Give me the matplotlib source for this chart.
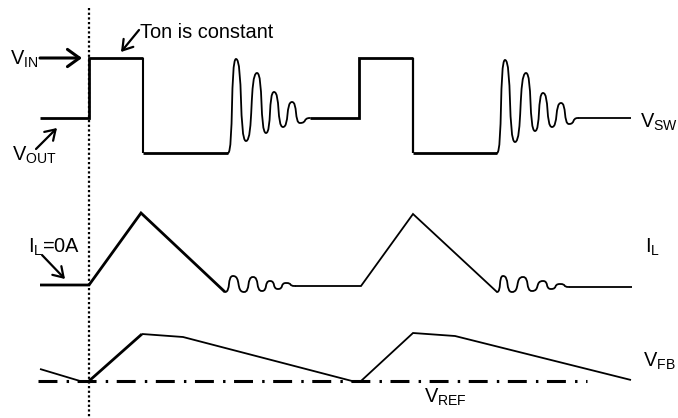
import numpy as np
import matplotlib as mpl
mpl.use('Agg')
import matplotlib.pyplot as plt
from matplotlib.path import Path
from matplotlib.patches import PathPatch

plt.rcParams['font.family'] = ['Liberation Sans', 'DejaVu Sans']
plt.rcParams['mathtext.default'] = 'regular'

# --- waveform breakpoints (image pixel units, y grows downward) ---
# V_SW
vsw_on1_x = [40, 89, 89, 143]
vsw_on1_y = [118, 118, 58, 58]
vsw_fall1_x = [143, 143]
vsw_fall1_y = [58, 153]
vsw_off1_x = [143, 228]
vsw_off1_y = [153, 153]
vsw_ring1_x = [228, 236, 246, 257, 266, 274, 283, 292, 300, 310]
vsw_ring1_y = [153, 59, 141, 73, 133, 92, 127, 102, 123, 118]
vsw_on2_x = [310, 359, 359, 413]
vsw_on2_y = [118, 118, 58, 58]
vsw_fall2_x = [413, 413]
vsw_fall2_y = [58, 153]
vsw_off2_x = [413, 497]
vsw_off2_y = [153, 153]
vsw_ring2_x = [497, 505, 515, 526, 535, 543, 552, 561, 569, 578]
vsw_ring2_y = [153, 60, 142, 73, 131, 93, 127, 103, 124, 118]
vsw_tail_x = [578, 631]
vsw_tail_y = [118, 118]

# I_L
il_tri1_x = [40, 89, 141, 225]
il_tri1_y = [285, 285, 213, 292]
il_ring1_x = [225, 233, 244, 253, 262, 270, 278, 286, 295]
il_ring1_y = [292, 276, 292, 277, 291, 281, 289, 283, 286]
il_tri2_x = [295, 361, 413, 497]
il_tri2_y = [286, 286, 214, 292]
il_ring2_x = [497, 503, 512, 523, 532, 543, 551, 560, 569]
il_ring2_y = [292, 276, 292, 277, 291, 281, 289, 284, 287]
il_tail_x = [569, 632]
il_tail_y = [287, 287]

# V_FB and V_REF
vfb_lead_x = [40, 80, 89]
vfb_lead_y = [369, 381, 381]
vfb_rise_x = [89, 142]
vfb_rise_y = [381, 334]
vfb_rest_x = [142, 183, 352, 361, 413, 455, 631]
vfb_rest_y = [334, 337, 381, 381, 333, 336, 380]
vref_x = [38, 587]
vref_y = [381, 381]

marker_x = 89
marker_y = [8, 418]

W, H = 678, 418
fig = plt.figure(figsize=(W / 100, H / 100), dpi=100)
ax = fig.add_axes([0, 0, 1, 1])
ax.set_xlim(0, W)
ax.set_ylim(H, 0)
ax.axis('off')

THICK = 2.0
THIN = 1.3
FS = 14.4


def ring(xs, ys, lw, k=0.7):
    verts = [(xs[0], ys[0])]
    codes = [Path.MOVETO]
    for i in range(len(xs) - 1):
        dx = xs[i + 1] - xs[i]
        verts += [(xs[i] + k * dx, ys[i]), (xs[i + 1] - k * dx, ys[i + 1]),
                  (xs[i + 1], ys[i + 1])]
        codes += [Path.CURVE4] * 3
    ax.add_patch(PathPatch(Path(verts, codes), fill=False, lw=lw,
                           ec='black', capstyle='round'))


def seg(xs, ys, lw):
    ax.plot(xs, ys, color='black', lw=lw, solid_joinstyle='miter',
            solid_capstyle='butt')


# dotted marker
ax.plot([marker_x, marker_x], marker_y, color='black', lw=1.6,
        linestyle=(0, (1, 1.1)), dash_capstyle='butt')

# V_SW
seg(vsw_on1_x, vsw_on1_y, THICK)
seg(vsw_fall1_x, vsw_fall1_y, 1.5)
seg(vsw_off1_x, vsw_off1_y, THICK)
ring(vsw_ring1_x, vsw_ring1_y, THIN)
seg(vsw_on2_x, vsw_on2_y, THICK)
seg(vsw_fall2_x, vsw_fall2_y, 1.6)
seg(vsw_off2_x, vsw_off2_y, THICK)
ring(vsw_ring2_x, vsw_ring2_y, THIN)
seg(vsw_tail_x, vsw_tail_y, THIN)

# I_L
seg(il_tri1_x, il_tri1_y, THICK)
ring(il_ring1_x, il_ring1_y, THIN, k=0.75)
seg(il_tri2_x, il_tri2_y, THIN)
ring(il_ring2_x, il_ring2_y, THIN, k=0.75)
seg(il_tail_x, il_tail_y, THIN)

# V_FB / V_REF
seg(vfb_lead_x, vfb_lead_y, THIN)
seg(vfb_rise_x, vfb_rise_y, THICK)
seg(vfb_rest_x, vfb_rest_y, THIN)
ax.plot(vref_x, vref_y, color='black', lw=2.2,
        linestyle=(0, (6.2, 3.0, 0.8, 2.8)), dash_capstyle='butt')


def arrow(tail, tip, lw, hl, hw):
    ax.annotate('', xy=tip, xytext=tail,
                arrowprops=dict(arrowstyle=f'->,head_length={hl},head_width={hw}',
                                lw=lw, color='black', shrinkA=0, shrinkB=0,
                                mutation_scale=10))


arrow((40, 58), (82, 58), 2.2, 0.86, 0.62)
arrow((36, 149), (57, 128), 1.6, 0.7, 0.45)
arrow((139, 30), (121, 52), 1.6, 0.7, 0.45)
arrow((42, 255), (65, 279), 1.6, 0.7, 0.45)

labels = [
    ('$V_{IN}$', 10, 65),
    ('$V_{OUT}$', 12, 161),
    ('Ton is constant', 140, 38),
    ('$I_{L}$=0A', 28, 253),
    ('$V_{SW}$', 640, 128),
    ('$I_{L}$', 645, 253),
    ('$V_{FB}$', 643, 367),
    ('$V_{REF}$', 424, 403),
]
for txt, x, y in labels:
    ax.text(x, y, txt, fontsize=FS, ha='left', va='baseline', color='black')

fig.savefig('out.png', dpi=100)
